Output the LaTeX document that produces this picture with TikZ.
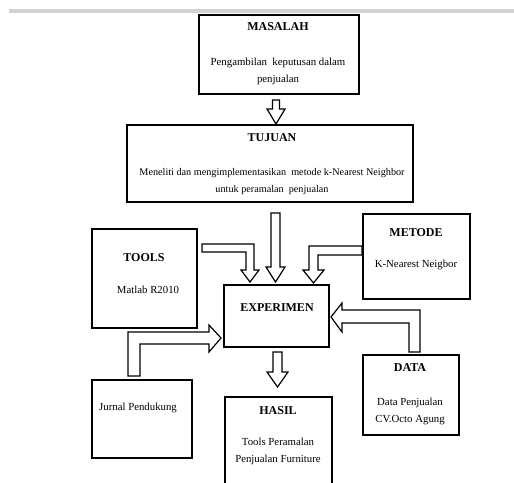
\documentclass[tikz,border=0pt]{standalone}
\usepackage{fontspec}
\setmainfont{Liberation Serif}
\begin{document}
\begin{tikzpicture}[x=1pt,y=-1pt,
  box/.style={draw, line width=1.6pt, inner sep=0pt},
  ttl/.style={font=\bfseries\fontsize{12}{14}\selectfont, inner sep=0pt},
  txt/.style={font=\fontsize{10.8}{17}\selectfont, align=center, inner sep=0pt},
  barrow/.style={draw, line width=1.2pt, fill=white, line join=miter}]
\useasboundingbox (0,0) rectangle (514,482);
\clip (0,0) rectangle (514,482);
\fill[fill={rgb,255:red,208;green,211;blue,214}] (9,9) rectangle (514,13);

% boxes
\node[box, minimum width=160pt, minimum height=79pt] (masalah) at (279,54.5) {};
\node[box, minimum width=286pt, minimum height=77pt] (tujuan) at (270,163.5) {};
\node[box, minimum width=105pt, minimum height=99pt] (tools) at (144.5,278.5) {};
\node[box, minimum width=107pt, minimum height=85pt] (metode) at (416.5,256.5) {};
\node[box, minimum width=105pt, minimum height=62pt] (experimen) at (276.5,316) {};
\node[box, minimum width=96pt, minimum height=80pt] (data) at (411,395) {};
\node[box, minimum width=100pt, minimum height=78pt] (jurnal) at (142,419) {};
\coordinate (hasilNW) at (225,397);
\coordinate (hasilNE) at (332,397);
\draw[line width=1.6pt] (225,500) -- (hasilNW) -- (hasilNE) -- (332,500);

% texts
\node[ttl] (tMasalah) at (278,27) {MASALAH};
\node[txt] (dMasalah) at (278,71) {Pengambilan\ \ keputusan dalam\\penjualan};
\node[ttl] (tTujuan) at (272,138) {TUJUAN};
\node[txt, font=\fontsize{10.2}{17}\selectfont] (dTujuan) at (272,181.5) {Meneliti dan mengimplementasikan\ \ metode k-Nearest Neighbor\\untuk peramalan\ \ penjualan};
\node[ttl] (tTools) at (144,258) {TOOLS};
\node[txt] (dTools) at (148,290) {Matlab R2010};
\node[ttl] (tExperimen) at (277,308) {EXPERIMEN};
\node[ttl] (tMetode) at (416,233) {METODE};
\node[txt] (dMetode) at (416,265) {K-Nearest Neigbor};
\node[ttl] (tData) at (410,368) {DATA};
\node[txt] (dData) at (410,411) {Data Penjualan\\CV.Octo Agung};
\node[ttl] (tHasil) at (278,411) {HASIL};
\node[txt] (dHasil) at (278,451.5) {Tools Peramalan\\Penjualan Furniture};
\node[txt, anchor=west] (dJurnal) at (99,408) {Jurnal Pendukung};

% block arrows
% masalah -> tujuan
\draw[barrow] (272.5,100) -- (279.5,100) -- (279.5,109) -- (285,109) -- (276,124) -- (267,109) -- (272.5,109) -- cycle;
% tujuan -> experimen
\draw[barrow] (271,213) -- (280,213) -- (280,267) -- (285,267) -- (275.5,282) -- (266,267) -- (271,267) -- cycle;
% tools -> experimen
\draw[barrow] (202,244) -- (254,244) -- (254,270) -- (259,270) -- (250,282) -- (241,270) -- (246,270) -- (246,252) -- (202,252) -- cycle;
% metode -> experimen
\draw[barrow] (362,246) -- (309,246) -- (309,270) -- (303,270) -- (313.5,283) -- (324,270) -- (318,270) -- (318,255) -- (362,255) -- cycle;
% data -> experimen
\draw[barrow] (409,352) -- (409,323) -- (342,323) -- (342,332) -- (331,317) -- (342,303) -- (342,310) -- (420,310) -- (420,352) -- cycle;
% jurnal -> experimen
\draw[barrow] (128,376) -- (128,332) -- (209,332) -- (209,325) -- (221,338) -- (209,352) -- (209,344) -- (140,344) -- (140,376) -- cycle;
% experimen -> hasil
\draw[barrow] (273,352) -- (282,352) -- (282,372) -- (288,372) -- (277.5,387) -- (267,372) -- (273,372) -- cycle;
\end{tikzpicture}
\end{document}
